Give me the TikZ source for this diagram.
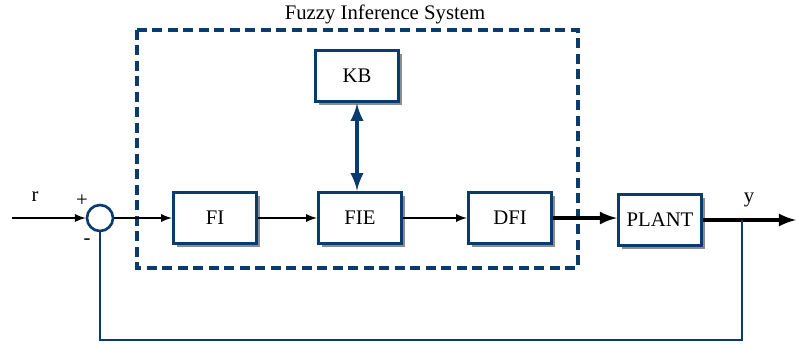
\documentclass[tikz,border=0pt]{standalone}
\usepackage{fontspec}
\setmainfont{Liberation Serif}
\usepackage{xcolor}
\usepackage{tikz}
\usetikzlibrary{shapes,arrows,shadows}
\definecolor{boxblue}{rgb}{0.04, 0.23, 0.43}
\tikzstyle{blockbox}=[draw=boxblue, line width=1.9pt, fill=white, minimum width=1.66cm, minimum height=1.03cm, drop shadow={shadow xshift=0.07cm, shadow yshift=-0.07cm, fill=black!45, opacity=1}]
\tikzstyle{sumcircle}=[draw=boxblue, circle, line width=1.5pt, fill=white, minimum size=0.52cm, inner sep=0pt]
\tikzstyle{signal}=[line width=1.1pt, -latex]
\tikzstyle{power}=[line width=2.3pt, -latex]

\begin{document}
\begin{tikzpicture}[x=0.02cm, y=-0.02cm, font=\fontsize{11.8}{13}\selectfont]
\useasboundingbox (0,0) rectangle (796,345);
% fuzzy part
\draw[boxblue, line width=1.9pt, dash pattern=on 0.2cm off 0.11cm] (137,30) rectangle (578,268);
\node (title) at (385,14) {Fuzzy Inference System};
\node[blockbox] (kb) at (357,76) {KB};
\node[blockbox] (fi) at (215,218) {FI};
\node[blockbox] (fie) at (360,218) {FIE};
\node[blockbox] (dfi) at (510,218) {DFI};
\node[blockbox] (plant) at (660,220) {PLANT};
\node[sumcircle] (sum) at (100,218) {};
\coordinate (rin) at (12,218);
\coordinate (yout) at (796,220);
\coordinate (tap) at (742,220);
% labels
\node at (35,197) {r};
\node at (82,201) {+};
\node at (87,242) {-};
\node at (749,200) {y};
% signals
\draw[signal] (rin) -- (sum);
\draw[signal] (sum) -- (fi);
\draw[signal] (fi) -- (fie);
\draw[signal] (fie) -- (dfi);
\draw[boxblue, line width=2.4pt, latex-latex] (kb) -- (kb |- fie.north);
\draw[power] (dfi.east) -- (dfi.east -| plant.west);
\draw[power] (plant) -- (yout);
\draw[boxblue, line width=1.4pt] (tap) -- ++(0,120) -| (sum.south);
\end{tikzpicture}
\end{document}
